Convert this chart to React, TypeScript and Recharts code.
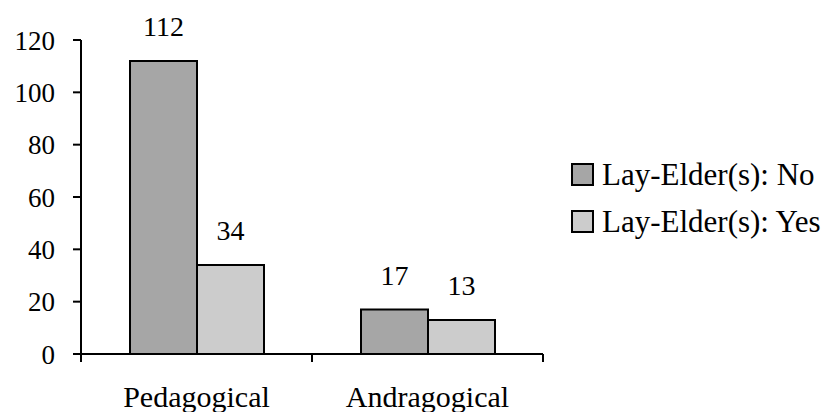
import React from "react";
import {
  BarChart,
  Bar,
  XAxis,
  YAxis,
  LabelList,
} from "recharts";

const categories = ["Pedagogical", "Andragogical"];
const layElderNo = [112, 17];
const layElderYes = [34, 13];
const yTicks = [0, 20, 40, 60, 80, 100, 120];

const seriesNames = ["Lay-Elder(s): No", "Lay-Elder(s): Yes"];
const seriesColors = ["#a6a6a6", "#cccccc"];

const data = categories.map((name, i) => ({
  name,
  no: layElderNo[i],
  yes: layElderYes[i],
}));

const FONT = '"Liberation Serif", "Times New Roman", serif';
const W = 829;
const H = 412;
const xAxisHeight = 30;
const margin = { top: 40, right: 286, bottom: 58 - xAxisHeight, left: 0 };
const yAxisWidth = 81;
const bandWidth = (W - margin.right - margin.left - yAxisWidth) / categories.length;

const CategoryTick = (props: any) => {
  const { x, y, payload } = props;
  return (
    <g>
      <line x1={x - bandWidth / 2} x2={x - bandWidth / 2} y1={y} y2={y + 8} stroke="#000" strokeWidth={2} />
      <line x1={x + bandWidth / 2} x2={x + bandWidth / 2} y1={y} y2={y + 8} stroke="#000" strokeWidth={2} />
      <text x={x} y={y + 53} textAnchor="middle" fill="#000" fontSize={30} fontFamily={FONT}>
        {payload.value}
      </text>
    </g>
  );
};

const ChartLegend = () => (
  <div
    style={{
      position: "absolute",
      left: 571,
      top: 151,
      fontFamily: FONT,
      fontSize: 31,
      color: "#000",
    }}
  >
    {seriesNames.map((n, i) => (
      <div key={n} style={{ display: "flex", alignItems: "center", height: 47, whiteSpace: "nowrap" }}>
        <svg width={31} height={24} style={{ flex: "none" }}>
          <rect x={1} y={1} width={21} height={21} fill={seriesColors[i]} stroke="#000" strokeWidth={2} />
        </svg>
        <span>{n}</span>
      </div>
    ))}
  </div>
);

export default function App() {
  return (
    <div style={{ position: "absolute", left: 0, top: 0, width: W, height: H, background: "#fff" }}>
      <BarChart width={W} height={H} data={data} margin={margin} barGap={0} barSize={67}>
        <XAxis
          dataKey="name"
          height={xAxisHeight}
          axisLine={{ stroke: "#000", strokeWidth: 2 }}
          tickLine={false}
          tickSize={0}
          tickMargin={0}
          tick={<CategoryTick />}
          interval={0}
        />
        <YAxis
          width={yAxisWidth}
          domain={[0, 120]}
          ticks={yTicks}
          interval={0}
          axisLine={{ stroke: "#000", strokeWidth: 2 }}
          tickLine={{ stroke: "#000", strokeWidth: 2 }}
          tickSize={8}
          tickMargin={18}
          tick={{ fill: "#000", fontSize: 27, fontFamily: FONT }}
        />
        <Bar dataKey="no" name={seriesNames[0]} fill={seriesColors[0]} stroke="#000" strokeWidth={2} isAnimationActive={false}>
          <LabelList dataKey="no" position="top" offset={25} fill="#000" fontSize={28} fontFamily={FONT} />
        </Bar>
        <Bar dataKey="yes" name={seriesNames[1]} fill={seriesColors[1]} stroke="#000" strokeWidth={2} isAnimationActive={false}>
          <LabelList dataKey="yes" position="top" offset={25} fill="#000" fontSize={28} fontFamily={FONT} />
        </Bar>
      </BarChart>
      <ChartLegend />
    </div>
  );
}
